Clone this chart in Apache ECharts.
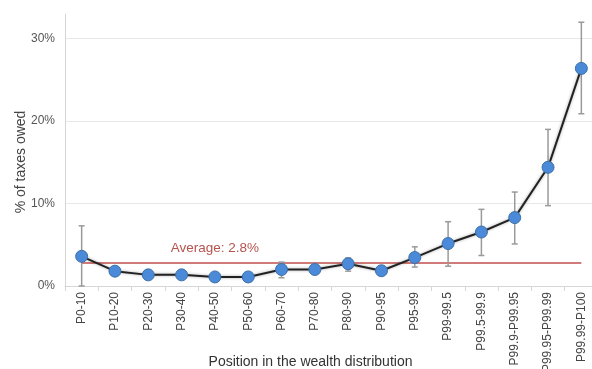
<!DOCTYPE html>
<html>
<head>
<meta charset="utf-8">
<script src="https://cdn.jsdelivr.net/npm/echarts@6/dist/echarts.min.js"></script>
<style>
  html, body { margin: 0; padding: 0; background: #fff; }
  #chart { width: 592px; height: 369px; }
</style>
</head>
<body>
<div id="chart"></div>
<script>
const categories = [
    'P0-10', 'P10-20', 'P20-30', 'P30-40', 'P40-50', 'P50-60', 'P60-70', 'P70-80',
    'P80-90', 'P90-95', 'P95-99', 'P99-99.5', 'P99.5-99.9', 'P99.9-P99.95',
    'P99.95-P99.99', 'P99.99-P100'
];

// share of taxes owed (%)
const taxShare = [3.6, 1.8, 1.35, 1.35, 1.1, 1.1, 2.0, 2.0, 2.7, 1.85, 3.45, 5.15, 6.55, 8.3, 14.4, 26.4];
const errLow = [0.0, 1.3, 1.0, 1.0, 0.8, 0.8, 1.0, 1.5, 1.8, 1.3, 2.3, 2.4, 3.7, 5.1, 9.75, 20.9];
const errHigh = [7.3, 2.3, 1.8, 1.8, 1.4, 1.4, 2.9, 2.5, 3.4, 2.4, 4.75, 7.8, 9.3, 11.4, 19.0, 32.0];

const average = 2.8;
const averageLabel = 'Average: 2.8%';
const averageLabelIndex = 4;

const yTicks = [0, 10, 20, 30];

const chart = echarts.init(document.getElementById('chart'), null, { renderer: 'canvas' });

const font = 'Liberation Sans, Arial, sans-serif';

const option = {
    animation: false,
    backgroundColor: '#fff',
    textStyle: { fontFamily: font },
    grid: { left: 65, right: -6, top: 14, bottom: 83, containLabel: false, outerBoundsMode: 'none' },
    xAxis: {
        type: 'category',
        data: categories,
        name: 'Position in the wealth distribution',
        nameLocation: 'middle',
        nameGap: 69,
        nameMoveOverlap: false,
        nameTextStyle: { fontSize: 14, color: '#333', padding: [0, 42, 0, 0] },
        axisLine: { lineStyle: { color: '#d6d6d6' } },
        axisTick: { show: true, length: 5, lineStyle: { color: '#d6d6d6' } },
        axisLabel: { rotate: 90, fontSize: 12, color: '#444', margin: 6, interval: 0 }
    },
    yAxis: {
        type: 'value',
        min: 0,
        max: 33,
        interval: 10,
        name: '% of taxes owed',
        nameLocation: 'middle',
        nameGap: 37,
        nameMoveOverlap: false,
        nameTextStyle: { fontSize: 14, color: '#444', padding: [0, 24, 0, 0] },
        axisLine: { show: true, lineStyle: { color: '#d6d6d6' } },
        axisTick: { show: false },
        axisLabel: {
            fontSize: 12,
            color: '#555',
            margin: 10,
            formatter: (v) => (yTicks.includes(v) ? v + '%' : '')
        },
        splitLine: {
            lineStyle: { color: ['#e8e8e8', '#e8e8e8', '#e8e8e8', '#e8e8e8', 'rgba(0,0,0,0)'] }
        }
    },
    series: [
        {
            name: 'Average',
            type: 'line',
            data: categories.map((c, i) => (i === averageLabelIndex
                ? {
                    value: average,
                    label: {
                        show: true,
                        formatter: averageLabel,
                        position: 'top',
                        distance: 8,
                        color: '#b5534e',
                        fontSize: 13.5
                    }
                }
                : average)),
            symbol: 'circle',
            symbolSize: 0,
            showSymbol: true,
            itemStyle: { color: '#c0504d' },
            lineStyle: { color: '#c0504d', width: 1.5 },
            z: 1
        },
        {
            name: 'Error',
            type: 'custom',
            data: categories.map((c, i) => [i, errLow[i], errHigh[i]]),
            z: 2,
            renderItem: (params, api) => {
                const lo = api.coord([api.value(0), api.value(1)]);
                const hi = api.coord([api.value(0), api.value(2)]);
                const cap = 3;
                const style = { stroke: '#9a9a9a', lineWidth: 1.5 };
                return {
                    type: 'group',
                    children: [
                        { type: 'line', shape: { x1: hi[0], y1: hi[1], x2: lo[0], y2: lo[1] }, style },
                        { type: 'line', shape: { x1: hi[0] - cap, y1: hi[1], x2: hi[0] + cap, y2: hi[1] }, style },
                        { type: 'line', shape: { x1: lo[0] - cap, y1: lo[1], x2: lo[0] + cap, y2: lo[1] }, style }
                    ]
                };
            }
        },
        {
            name: 'Taxes owed',
            type: 'line',
            data: taxShare,
            symbol: 'circle',
            symbolSize: 12,
            z: 3,
            lineStyle: {
                color: '#222',
                width: 2,
                shadowColor: 'rgba(0,0,0,0.35)',
                shadowBlur: 3
            },
            itemStyle: { color: '#4a8ad8', borderColor: '#3d6fa8', borderWidth: 1 }
        }
    ]
};

chart.setOption(option);
</script>
</body>
</html>
